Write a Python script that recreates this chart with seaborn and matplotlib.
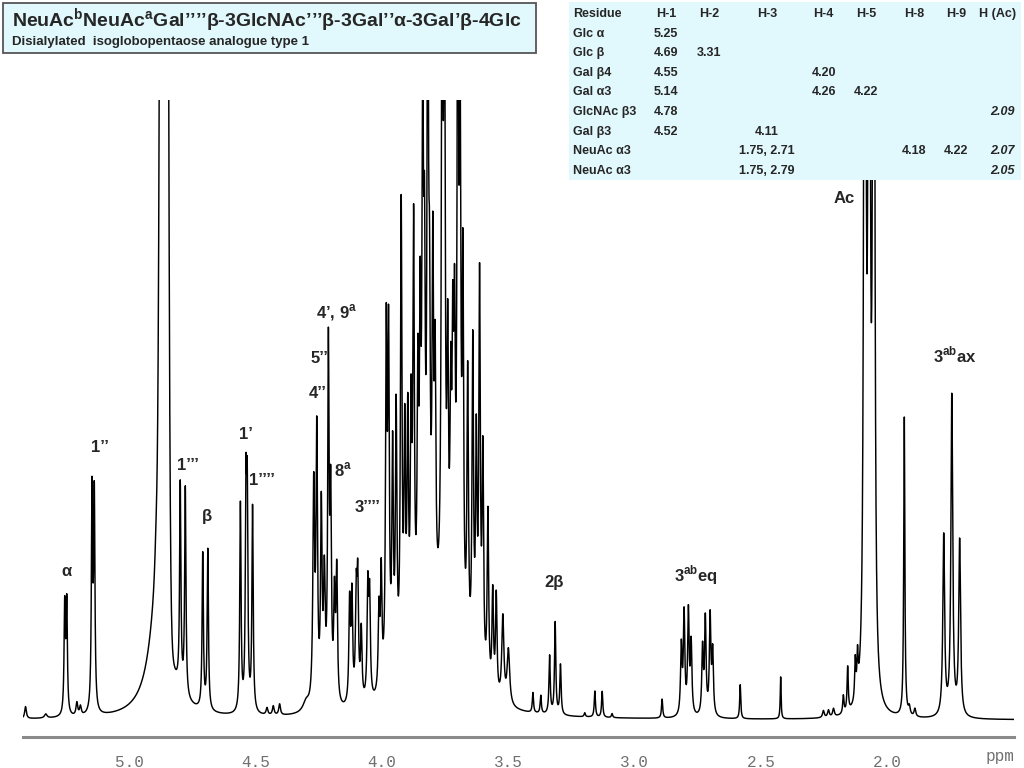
import numpy as np
import pandas as pd
import matplotlib
matplotlib.use('Agg')
import matplotlib.pyplot as plt
import seaborn as sns
from matplotlib.patches import Rectangle
from matplotlib.ticker import MultipleLocator

# peak list: shift (ppm), height (above baseline), half width (ppm)
peakPpm = [5.410, 5.330, 5.255, 5.247, 5.207, 5.193, 5.147, 5.138,
           4.893, 4.880, 4.798, 4.778, 4.709, 4.689,
           4.560, 4.538, 4.533, 4.512, 4.455, 4.430, 4.405, 4.300,
           4.270, 4.258, 4.240, 4.228, 4.212, 4.203, 4.188, 4.179,
           4.128, 4.119, 4.102, 4.096, 4.082, 4.056, 4.049, 4.012, 4.003,
           3.983, 3.974, 3.958, 3.944, 3.924, 3.910, 3.898, 3.885, 3.875,
           3.858, 3.849, 3.839, 3.832, 3.819, 3.812, 3.799, 3.790, 3.762,
           3.753, 3.740, 3.728, 3.720, 3.713, 3.700, 3.691, 3.680, 3.661,
           3.641, 3.627, 3.614, 3.601, 3.581, 3.562, 3.548, 3.522, 3.500,
           3.780,
           3.403, 3.372, 3.337, 3.315, 3.294, 3.198, 3.158, 3.129, 3.090,
           2.892, 2.816, 2.805, 2.788, 2.777, 2.732, 2.721, 2.702, 2.692,
           2.583, 2.423, 2.254, 2.234, 2.214, 2.175, 2.158, 2.128, 2.119,
           2.090, 2.073, 2.055, 1.934, 1.914, 1.892, 1.778, 1.746, 1.715]
peakHeight = [12, 4, 108, 110, 13, 9, 218, 213,
              45, 150, 205, 208, 155, 160,
              208, 202, 197, 205, 7, 9, 11, 10,
              215, 265, 190, 120, 345, 195, 100, 130,
              100, 105, 100, 115, 70, 110, 100, 80, 115,
              340, 330, 220, 260, 460, 220, 230, 220, 410,
              240, 280, 500, 300, 640, 240, 340, 230, 700,
              600, 250, 200, 240, 260, 700, 480, 360, 280,
              320, 220, 390, 220, 175, 100, 100, 85, 55,
              80,
              20, 18, 58, 92, 50, 4, 26, 26, 4,
              19, 68, 100, 102, 70, 66, 95, 98, 62,
              34, 42, 7, 7, 8, 18, 45, 40, 38,
              2000, 1800, 1900, 300, 8, 8, 180, 320, 175]
peakWidth = [0.004, 0.006, 0.003, 0.003, 0.004, 0.004, 0.003, 0.003,
             0.008, 0.040, 0.003, 0.003, 0.003, 0.003,
             0.003, 0.003, 0.003, 0.003, 0.004, 0.004, 0.004, 0.015,
             0.004, 0.0035, 0.0035, 0.004, 0.0032, 0.0035, 0.0035, 0.0035,
             0.0035, 0.0035, 0.0035, 0.0035, 0.0035, 0.0035, 0.0035, 0.0035, 0.0035,
             0.0035, 0.0035, 0.0035, 0.0035, 0.0035, 0.0035, 0.0035, 0.0035, 0.0035,
             0.0035, 0.0035, 0.0035, 0.0035, 0.0035, 0.0035, 0.0035, 0.0035, 0.0035,
             0.0035, 0.0035, 0.0035, 0.0035, 0.0035, 0.0035, 0.0035, 0.0035, 0.0035,
             0.0035, 0.0035, 0.0035, 0.0035, 0.0035, 0.0035, 0.0035, 0.005, 0.006,
             0.100,
             0.0028, 0.0028, 0.003, 0.003, 0.003, 0.003, 0.0028, 0.0028, 0.003,
             0.0028, 0.0035, 0.0035, 0.0035, 0.0035, 0.0035, 0.0035, 0.0035, 0.0035,
             0.0025, 0.002, 0.004, 0.004, 0.004, 0.003, 0.0028, 0.0028, 0.0028,
             0.003, 0.003, 0.003, 0.0026, 0.004, 0.004, 0.0042, 0.0042, 0.0042]

# residual water signal (saturated, gaussian shape)
waterPpm = 4.862
waterHeight = 3000
waterSigma = 0.010

peakLabels = ['α', '1’’', '1’’’', 'β', '1’', '1’’’’', '4’’', '5’’',
              '4’, 9$^{\\mathbf{a}}$', '8$^{\\mathbf{a}}$', '3’’’’', '2β',
              '3$^{\\mathbf{ab}}$eq', 'Ac', '3$^{\\mathbf{ab}}$ax']
labelPpm = [5.249, 5.117, 4.769, 4.691, 4.537, 4.473, 4.254, 4.247,
            4.181, 4.155, 4.056, 3.318, 2.757, 2.170, 1.735]
labelHeight = [148, 273, 255, 204, 286, 240, 327, 362,
               407, 250, 212, 137, 145, 522, 365]

tableHeader = ['Residue', 'H-1', 'H-2', 'H-3', 'H-4', 'H-5', 'H-8', 'H-9', 'H (Ac)']
residues = ['Glc α', 'Glc β', 'Gal β4', 'Gal α3', 'GlcNAc β3', 'Gal β3', 'NeuAc α3', 'NeuAc α3']
colH1 = ['5.25', '4.69', '4.55', '5.14', '4.78', '4.52', '', '']
colH2 = ['', '3.31', '', '', '', '', '', '']
colH3 = ['', '', '', '', '', '4.11', '1.75, 2.71', '1.75, 2.79']
colH4 = ['', '', '4.20', '4.26', '', '', '', '']
colH5 = ['', '', '', '4.22', '', '', '', '']
colH8 = ['', '', '', '', '', '', '4.18', '']
colH9 = ['', '', '', '', '', '', '4.22', '']
colHAc = ['', '', '', '', '2.09', '', '2.07', '2.05']

titleText = 'NeuAc$^{\\mathbf{b}}$NeuAc$^{\\mathbf{a}}$Gal’’’’β-3GlcNAc’’’β-3Gal’’α-3Gal’β-4Glc'
subtitleText = 'Disialylated  isoglobopentaose analogue type 1'

sns.set_style('white')
plt.rcParams['font.family'] = ['Liberation Sans', 'DejaVu Sans']
plt.rcParams['mathtext.fontset'] = 'custom'
plt.rcParams['mathtext.rm'] = 'Liberation Sans'
plt.rcParams['mathtext.bf'] = 'Liberation Sans:bold'

ppmGrid = np.linspace(5.42, 1.50, 9000)
pp = np.array(peakPpm)[:, None]
hh = np.array(peakHeight)[:, None]
ww = np.array(peakWidth)[:, None]
intensity = (hh * ww**2 / (ww**2 + (ppmGrid[None, :] - pp)**2)).sum(axis=0)
intensity += waterHeight * np.exp(-(ppmGrid - waterPpm)**2 / (2 * waterSigma**2))
spectrum = pd.DataFrame({'ppm': ppmGrid, 'intensity': intensity})

W, H = 1024, 768
fig = plt.figure(figsize=(W / 100, H / 100), dpi=100)
fig.patch.set_facecolor('white')
ax = fig.add_axes([23 / W, 1 - 736.7 / H, (1014 - 23) / W, (736.7 - 100) / H])
ax.patch.set_alpha(0)
sns.lineplot(data=spectrum, x='ppm', y='intensity', ax=ax, color='black',
             linewidth=1.05, estimator=None, sort=False)
ax.set_xlim(5.42, 1.50)
ax.set_ylim(-16.7, 620)
ax.set_xlabel('')
ax.set_ylabel('')
ax.set_yticks([])
for side in ['left', 'right', 'top']:
    ax.spines[side].set_visible(False)
ax.spines['bottom'].set_color('#8a8a8a')
ax.spines['bottom'].set_linewidth(2.2)
ax.xaxis.set_major_locator(MultipleLocator(0.5))
ax.xaxis.set_minor_locator(MultipleLocator(0.1))
ax.tick_params(axis='x', which='major', direction='out', length=8, width=1.3,
               color='#8a8a8a', labelcolor='#707070', pad=5, labelsize=11.5)
ax.tick_params(axis='x', which='minor', direction='out', length=4, width=1.1,
               color='#8a8a8a')
ax.set_xticks([5.0, 4.5, 4.0, 3.5, 3.0, 2.5, 2.0])
ax.set_xticklabels(['5.0', '4.5', '4.0', '3.5', '3.0', '2.5', '2.0'],
                   family='Liberation Mono')
fig.text(1014 / W, 1 - 757 / H, 'ppm', ha='right', va='center',
         family='Liberation Mono', color='#707070', fontsize=11.5)

for lab, lx, ly in zip(peakLabels, labelPpm, labelHeight):
    ax.text(lx, ly, lab, ha='center', va='center', fontsize=12, fontweight='bold')

def fx(x):
    return x / W

def fy(y):
    return 1 - y / H

boxColor = '#e1f8fc'
fig.patches.append(Rectangle((fx(3), fy(53)), 533 / W, 50 / H, transform=fig.transFigure,
                             facecolor=boxColor, edgecolor='#555555', linewidth=1.3, zorder=5))
fig.text(fx(12), fy(21), titleText, ha='left', va='center', fontsize=14,
         fontweight='bold', zorder=6)
fig.text(fx(12), fy(42), subtitleText, ha='left', va='center', fontsize=9.5,
         fontweight='bold', zorder=6)

fig.patches.append(Rectangle((fx(569), fy(180)), 452 / W, 178 / H, transform=fig.transFigure,
                             facecolor=boxColor, edgecolor='none', zorder=5))
colX = [666, 709.5, 767, 823.5, 866, 914.5, 956]
columns = [colH1, colH2, colH3, colH4, colH5, colH8, colH9]
rowY = [14 + 19.6 * (i + 1) for i in range(len(residues))]
fig.text(fx(573), fy(14), tableHeader[0], ha='left', va='center', fontsize=9,
         fontweight='bold', zorder=6)
for cx, head in zip(colX, tableHeader[1:8]):
    fig.text(fx(cx), fy(14), head, ha='center', va='center', fontsize=9,
             fontweight='bold', zorder=6)
fig.text(fx(1016), fy(14), tableHeader[8], ha='right', va='center', fontsize=9,
         fontweight='bold', zorder=6)
for i, res in enumerate(residues):
    fig.text(fx(573), fy(rowY[i]), res, ha='left', va='center', fontsize=9,
             fontweight='bold', zorder=6)
    for cx, col in zip(colX, columns):
        if col[i]:
            fig.text(fx(cx), fy(rowY[i]), col[i], ha='center', va='center', fontsize=9,
                     fontweight='bold', zorder=6)
    if colHAc[i]:
        fig.text(fx(1015), fy(rowY[i]), colHAc[i], ha='right', va='center', fontsize=9,
                 fontweight='bold', style='italic', zorder=6)

fig.savefig('out.png', dpi=100)
